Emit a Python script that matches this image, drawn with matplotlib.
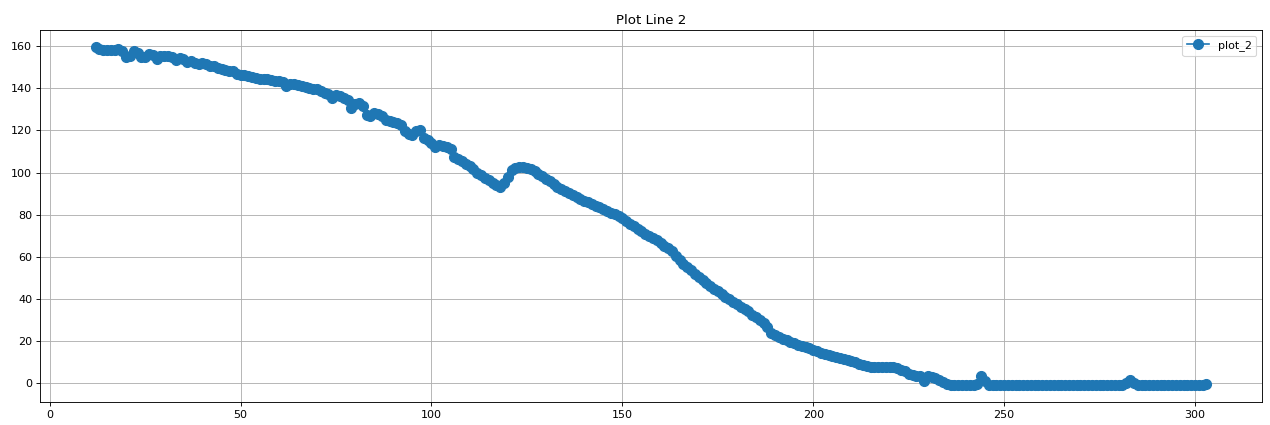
import matplotlib
matplotlib.use("Agg")
import matplotlib.pyplot as plt

##### Dados #####
title = "Plot Line 2"
label = "plot_2"

# frames 12..303, one reading per frame
frames = list(range(12, 304))

values = [
  159.5, 158.5, 158, 158, 158, 158, 158.5, 157.5,                      # 12-19
  155, 155.5, 157.5, 157, 155, 155, 156.5, 156, 154, 155.5,            # 20-29
  155.5, 155.5, 155, 153.5, 154.5, 154, 152.5, 153, 152, 151.5,        # 30-39
  152, 151.5, 150.5, 150.5, 149.5, 149, 148.5, 148, 148, 147,          # 40-49
  146.5, 146.5, 146, 145.5, 145, 144.5, 144.5, 144.5, 144, 143.5,      # 50-59
  143.5, 143, 141, 142, 142, 141.5, 141, 140.5, 140, 139.5,            # 60-69
  139.5, 138.5, 138, 137.5, 135.5, 137, 136.5, 135.5, 134.5, 130.5,    # 70-79
  132.5, 133, 131.5, 127.5, 127, 128.5, 128, 127, 125, 124.5,          # 80-89
  124, 123.5, 122.5, 119.5, 118.5, 118, 119.5, 120, 116.5, 115.5,      # 90-99
  114, 112, 113, 112.5, 112, 111, 107.5, 106.5, 105.5, 104,            # 100-109
  103, 101.5, 100, 99, 97.5, 96.5, 95, 94, 93, 95,                     # 110-119
  98, 101, 102, 102.5, 102.5, 102, 101.5, 100.5, 99.5, 98.5,           # 120-129
  97, 96, 94.5, 93, 92, 91, 90.5, 89.5, 88.5, 87.5,                    # 130-139
  86.5, 86, 85, 84, 83.5, 82.5, 81.5, 81, 80.5, 79.5,                  # 140-149
  78.5, 77, 75.5, 74.5, 73, 72, 71, 70, 69, 68,                        # 150-159
  66.5, 65, 64, 62.5, 60.5, 58.5, 56.5, 55, 53.5, 52,                  # 160-169
  50.5, 49, 47.5, 46, 44.5, 43.5, 42.5, 41, 40, 38.5,                  # 170-179
  37.5, 36, 35, 34, 32.5, 31.5, 30, 28.5, 26.5, 24,                    # 180-189
  23, 22, 21, 20.5, 19.5, 19, 18, 17.5, 17, 16.5,                      # 190-199
  15.5, 15, 14.5, 14, 13.5, 13, 12.5, 12, 11.5, 11,                    # 200-209
  10.5, 10, 9, 8.5, 8, 7.5, 7.5, 7.5, 7.5, 7.5,                        # 210-219
  7.5, 7.5, 7, 6, 5.5, 4.5, 4, 3.5, 3.5, 1,                            # 220-229
  3.5, 3, 2.5, 1.5, 0.5, -0.5, -1, -1, -1, -1,                         # 230-239
  -1, -1, -1, -0.5, 3.5, 1, -1, -1, -1, -1,                            # 240-249
  -1, -1, -1, -1, -1, -1, -1, -1, -1, -1,                              # 250-259
  -1, -1, -1, -1, -1, -1, -1, -1, -1, -1,                              # 260-269
  -1, -1, -1, -1, -1, -1, -1, -1, -1, -1,                              # 270-279
  -1, -1, 0, 1.5, 0, -1, -1, -1, -1, -1,                               # 280-289
  -1, -1, -1, -1, -1, -1, -1, -1, -1, -1,                              # 290-299
  -1, -1, -1, -0.5,                                                    # 300-303
]

##### Grafico #####
plt.figure(figsize = (15.875, 5.3125), dpi = 80)
plt.plot(frames, values, marker = 'o', markersize = 9, label = label)
plt.title(title)
plt.grid(True)
plt.legend(loc = 'upper right')
plt.subplots_adjust(left = 0.0315, right = 0.9937, top = 0.9285, bottom = 0.054)
plt.savefig("out.png")
